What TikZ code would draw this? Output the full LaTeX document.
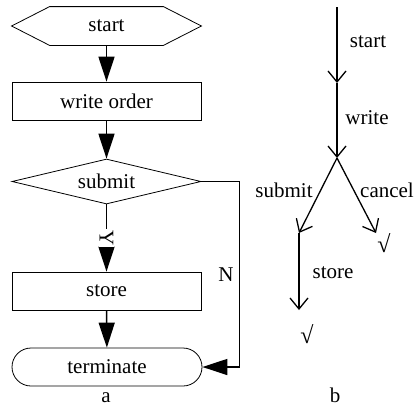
\documentclass[tikz,border=0pt]{standalone}
\usepackage{fontspec}
\setmainfont{Liberation Serif}
\usetikzlibrary{shapes.geometric}
\usetikzlibrary{shapes.misc}
\usetikzlibrary{arrows.meta}
\usetikzlibrary{calc}

\begin{document}
\begin{tikzpicture}[
x=1pt, y=-1pt,
font=\fontsize{21}{25}\selectfont,
box/.style={
    draw,
    line width=0.8pt,
    minimum width=189pt,
    minimum height=38pt,
    inner sep=0pt
},
flow/.style={
    line width=1.5pt,
    -{Triangle[length=25pt,width=16pt]}
},
trace/.style={
    line width=1.3pt,
    -{Straight Barb[length=11pt,width=18pt]}
},
tick/.style={
    font=\fontsize{24}{24}\selectfont\bfseries,
    inner sep=0pt
}
]
\useasboundingbox (0,0) rectangle (415,408);

% a: flow chart
\node[box, draw=none] (start) at (106.5,26) {start};
\draw[line width=0.8pt] (start.west) -- ($(start.north west)+(38,0)$)
    -- ($(start.north east)+(-38,0)$) -- (start.east)
    -- ($(start.south east)+(-38,0)$) -- ($(start.south west)+(38,0)$) -- cycle;
\node[box] (write) at (106.5,101) {write order};
\node[box, diamond, aspect=4.2, minimum height=45pt] (submit) at (106.5,181.5) {submit};
\node[box] (store) at (106.5,291) {store};
\node[box, rounded rectangle, minimum width=190pt] (term) at (107,367) {terminate};
\node[inner sep=1pt] (a) at (106,398) {a};

\draw[flow] (start) -- (write);
\draw[flow] (write) -- (submit);
\draw[flow] (submit) -- node[fill=white, rotate=-90, inner sep=1pt] (yes) {Y} (store);
\draw[flow] (store) -- (term);
\draw[flow] (submit.east) -- ++(38,0) |- node[pos=0.25, left, inner sep=5pt] (no) {N} (term.east);

% b: trace
\coordinate (t0) at (337,7);
\coordinate (t1) at (337,83);
\coordinate (t2) at (337,158);
\coordinate (t3) at (299,233);
\coordinate (t4) at (376,233);
\coordinate (t5) at (299,310);
\draw[trace] (t0) -- (t1);
\draw[trace] (t1) -- (t2);
\draw[trace] (t2) -- (t3);
\draw[trace] (t2) -- (t4);
\draw[trace] (t3) -- (t5);

\node (lstart) at (368,42) {start};
\node (lwrite) at (367,118) {write};
\node (lsubmit) at (284,190) {submit};
\node[inner sep=1pt] (lcancel) at (387,190) {cancel};
\node (lstore) at (333,273) {store};
\node[tick] (ok1) at (384,243) {√};
\node[tick] (ok2) at (307,334) {√};
\node[inner sep=1pt] (b) at (335,395) {b};
\end{tikzpicture}
\end{document}
